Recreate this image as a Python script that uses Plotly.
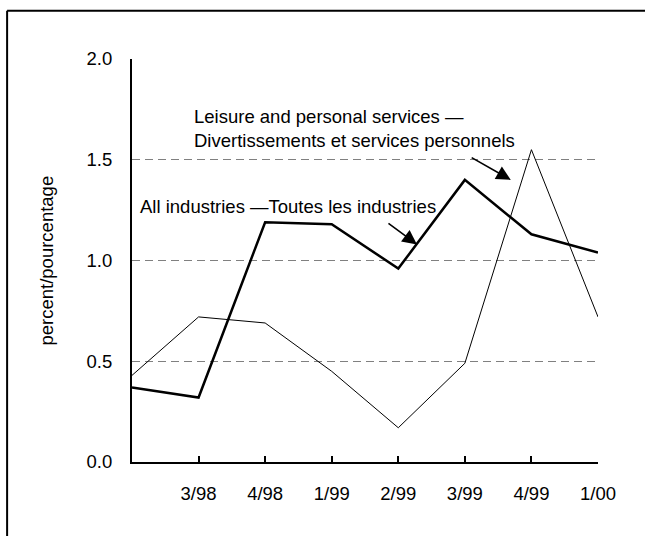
import plotly.graph_objects as go

# Quarterly series, first quarter (2/98) carries no tick label
quarters = ["", "3/98", "4/98", "1/99", "2/99", "3/99", "4/99", "1/00"]
all_industries = [0.37, 0.32, 1.19, 1.18, 0.96, 1.40, 1.13, 1.04]
leisure_services = [0.43, 0.72, 0.69, 0.45, 0.17, 0.49, 1.55, 0.72]
y_ticks = [0.0, 0.5, 1.0, 1.5, 2.0]

x_pos = list(range(len(quarters)))
FONT = "Liberation Sans, Arial, sans-serif"
FS = 18.5

fig = go.Figure()
fig.add_trace(go.Scatter(x=x_pos, y=leisure_services, mode="lines",
                         line=dict(color="black", width=1), showlegend=False))
fig.add_trace(go.Scatter(x=x_pos, y=all_industries, mode="lines",
                         line=dict(color="black", width=2.5), showlegend=False))

# Arrows pointing from the labels to the lines
fig.add_annotation(x=5.69, y=1.40, ax=5.08, ay=1.515, xref="x", yref="y",
                   axref="x", ayref="y", text="", showarrow=True,
                   arrowhead=2, arrowsize=1.8, arrowwidth=1.6, arrowcolor="black")
fig.add_annotation(x=4.28, y=1.08, ax=3.83, ay=1.19, xref="x", yref="y",
                   axref="x", ayref="y", text="", showarrow=True,
                   arrowhead=2, arrowsize=1.8, arrowwidth=1.6, arrowcolor="black")

fig.add_annotation(x=0.09, y=1.27, xref="x", yref="y", xanchor="left",
                   yanchor="middle", showarrow=False, align="left",
                   text="All industries \u2014Toutes les industries",
                   font=dict(family=FONT, size=FS, color="black"))
fig.add_annotation(x=0.90, y=1.655, xref="x", yref="y", xanchor="left",
                   yanchor="middle", showarrow=False, align="left",
                   text="Leisure and personal services \u2014<br>Divertissements et services personnels",
                   font=dict(family=FONT, size=FS, color="black"))

# Y axis title
fig.add_annotation(x=-0.1845, y=0.5, xref="paper", yref="paper",
                   xanchor="center", yanchor="middle", showarrow=False,
                   textangle=-90, text="percent/pourcentage",
                   font=dict(family=FONT, size=FS, color="black"))

# Chart-area frame: left and top edges (the rest runs past the page)
fig.add_shape(type="line", xref="paper", yref="paper",
              x0=-0.268, x1=-0.268, y0=1.12, y1=-0.3,
              line=dict(color="black", width=2))
fig.add_shape(type="line", xref="paper", yref="paper",
              x0=-0.268, x1=1.2, y0=1.12, y1=1.12,
              line=dict(color="black", width=2))

fig.update_layout(
    width=645, height=536,
    margin=dict(l=132, r=47, t=59, b=74),
    paper_bgcolor="white", plot_bgcolor="white",
    font=dict(family=FONT, size=FS, color="black"),
    xaxis=dict(range=[0, 7], tickmode="array", tickvals=x_pos[1:],
               ticktext=quarters[1:], ticks="inside", ticklen=6,
               tickwidth=1.5, tickcolor="black", showline=True,
               linecolor="black", linewidth=2, showgrid=False,
               zeroline=False, ticklabelstandoff=14),
    yaxis=dict(range=[0, 2], tickmode="array", tickvals=y_ticks,
               ticktext=[f"{v:.1f}" for v in y_ticks], ticks="",
               showline=True, linecolor="black", linewidth=2,
               showgrid=True, gridcolor="#808080", gridwidth=1,
               griddash="8px,5px", zeroline=False, ticklabelstandoff=14),
)

fig.write_html("out.html")
